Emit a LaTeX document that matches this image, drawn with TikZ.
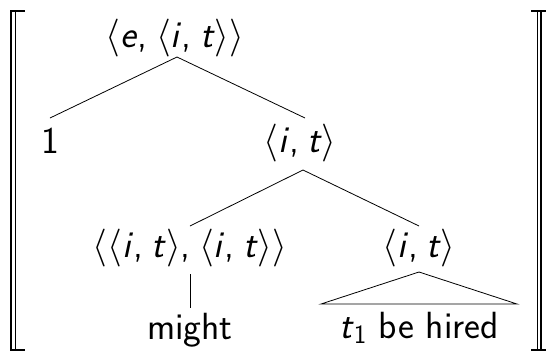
\RequirePackage{fix-cm}
\documentclass[tikz,border=0pt]{standalone}
\newcommand{\myl}{$\langle$}
\newcommand{\myr}{$\rangle$}
\newcommand{\vi}{\textit{i}}
\newcommand{\vt}{\textit{t}}
\newcommand{\cm}{,\hspace{0.22em}}
\begin{document}
\begin{tikzpicture}[x=1bp,y=-1bp,
  lbl/.style={anchor=base,inner sep=0pt,font=\fontsize{38}{44}\selectfont\sffamily},
  edge/.style={line width=0.8bp},
  brk/.style={line cap=butt}]
\useasboundingbox (0,0) rectangle (546,352);
% brackets
\draw[brk,line width=2.2bp] (10,11) -- (25,11);
\draw[brk,line width=2.2bp] (11,10) -- (11,351);
\draw[brk,line width=1.6bp] (15.5,11) -- (15.5,351);
\draw[brk,line width=2.2bp] (10,350) -- (25,350);
\draw[brk,line width=2.2bp] (531,11) -- (546,11);
\draw[brk,line width=2.2bp] (541,10) -- (541,351);
\draw[brk,line width=1.6bp] (537.5,11) -- (537.5,351);
\draw[brk,line width=2.2bp] (531,350) -- (546,350);
% nodes
\node[lbl] (root) at (175,47) {\myl\textit{e}\cm\myl\vi\cm\vt\myr\myr};
\node[lbl] (one) at (50,153) {1};
\node[lbl] (mid) at (300,152) {\myl\vi\cm\vt\myr};
\node[lbl] (mod) at (190,257) {\myl\myl\vi\cm\vt\myr\cm\myl\vi\cm\vt\myr\myr};
\node[lbl] (vp) at (419,257) {\myl\vi\cm\vt\myr};
\node[lbl] (might) at (190,339) {might};
\node[lbl] (hired) at (419,338) {\vt\textsubscript{1} be hired};
% connectors
\draw[edge] ([xshift=2bp,yshift=-10bp]root.base) -- ([yshift=35bp]one.base);
\draw[edge] ([xshift=2bp,yshift=-10bp]root.base) -- ([xshift=5bp,yshift=34bp]mid.base);
\draw[edge] ([xshift=3bp,yshift=-18bp]mid.base) -- ([yshift=31bp]mod.base);
\draw[edge] ([xshift=3bp,yshift=-18bp]mid.base) -- ([yshift=31bp]vp.base);
\draw[edge] ([yshift=-17bp]mod.base) -- ([yshift=31bp]might.base);
\draw[edge] ([yshift=-15bp]vp.base) -- ([xshift=-98bp,yshift=34bp]hired.base)
  -- ([xshift=98bp,yshift=34bp]hired.base) -- cycle;
\end{tikzpicture}
\end{document}
